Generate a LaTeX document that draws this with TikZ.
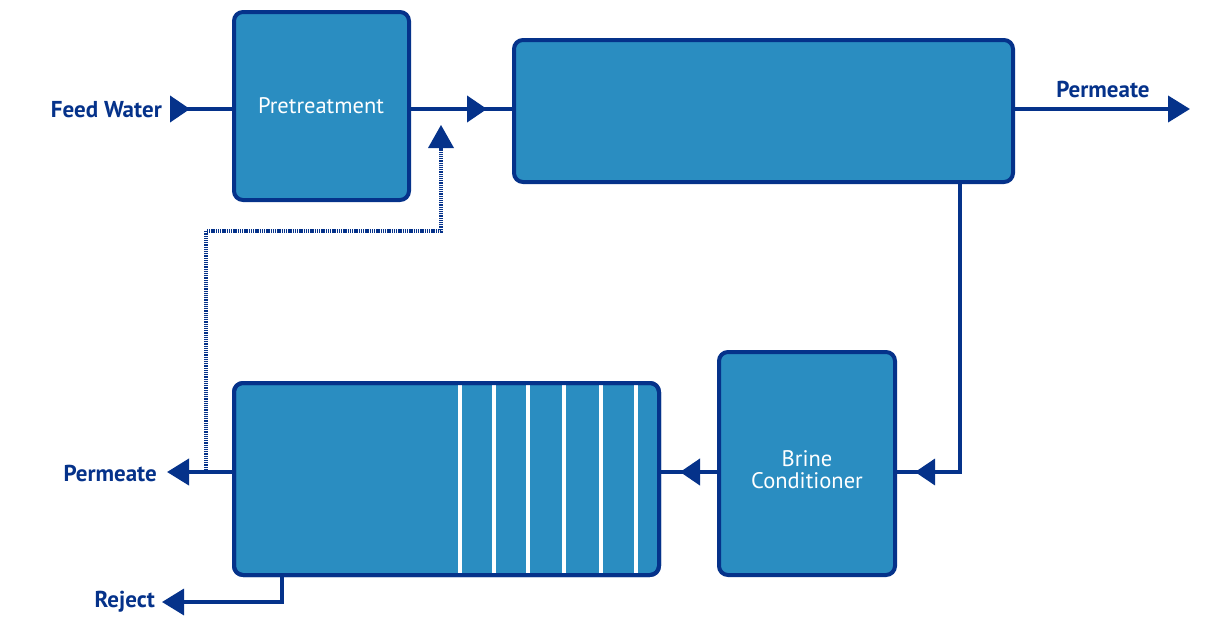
\documentclass[tikz,border=0pt]{standalone}
\usepackage{fontspec}
\setmainfont{PT Sans}
\usetikzlibrary{arrows.meta,decorations.markings,calc}
\definecolor{boxfill}{HTML}{2A8DC1}
\definecolor{navy}{HTML}{05328A}
\begin{document}
\begin{tikzpicture}[x=1pt,y=-1pt,
  box/.style={draw=navy, fill=boxfill, line width=4pt, rounded corners=9pt, inner sep=0pt},
  boxtext/.style={text=white, font=\fontsize{22.5}{22}\selectfont, align=center, inner sep=0pt},
  lbl/.style={text=navy, font=\bfseries\fontsize{23}{26}\selectfont, inner sep=0pt},
  conn/.style={draw=navy, line width=4pt},
  thin conn/.style={draw=navy, line width=3.5pt},
  endtip/.style={-{Triangle[length=22pt,width=26pt]}},
  midtip/.style={postaction={decorate, decoration={markings,
      mark=at position #1 with {\arrow{Triangle[length=20pt,width=26pt,navy]}}}}},
  dotted conn/.style={draw=navy, line width=3.5pt, dash pattern=on 1.3pt off 0.9pt}
]
\useasboundingbox (0,0) rectangle (1210,616);

% boxes
\node[box, minimum width=175pt, minimum height=188pt] (pre) at (321.5,106) {};
\node[boxtext] (pret) at (321,106) {Pretreatment};
\node[box, minimum width=499pt, minimum height=142pt] (ro) at (763.5,111) {};
\node[box, minimum width=176pt, minimum height=223pt] (bc) at (807,463.5) {};
\node[boxtext] (bct) at (807,470) {Brine\\Conditioner};
\node[box, minimum width=425pt, minimum height=192pt] (ev) at (446.5,479) {};

% stripes in evaporator box
\foreach \sx in {460,494,528,564,601,636}
  \draw[white, line width=3.5pt] (\sx,381) -- (\sx,577);
\draw[navy, line width=4pt, rounded corners=9pt]
  ($(ev.south west)+(2,-2)$) rectangle ($(ev.north east)+(-2,2)$);

% coordinates
\coordinate (fw) at (170,109);
\coordinate (pout) at (1190,109);
\coordinate (pl) at (167,472);
\coordinate (rj1) at (282,602);
\coordinate (rj2) at (162,602);
\coordinate (lp1) at (960,472);
\coordinate (dt0) at (206,470);
\coordinate (dt1) at (206,231);
\coordinate (dt2) at (441,231);
\coordinate (dt3) at (441,125);

% labels
\node[lbl, anchor=east] (fwl) at (162,110) {Feed Water};
\node[lbl] (ptl) at (1103,89) {Permeate};
\node[lbl, anchor=east] (pll) at (157,473) {Permeate};
\node[lbl, anchor=east] (rjl) at (155,602) {Reject};

% connectors
\draw[conn, midtip=20pt] (fw) -- (pre.west |- fw);
\draw[conn, midtip=76pt] (pre.east |- fw) -- (ro.west |- fw);
\draw[conn, endtip] (ro.east |- pout) -- (pout);
\draw[thin conn, midtip=333pt] (ro.south -| lp1) -- (lp1) -- (bc.east |- lp1);
\draw[conn, midtip=37pt] (bc.west |- lp1) -- (ev.east |- lp1);
\draw[conn, endtip] (ev.west |- pl) -- (pl);
\draw[thin conn, endtip] (ev.south -| rj1) -- (rj1) -- (rj2);
\draw[dotted conn] (dt0) -- (dt1) -- (dt2) -- (441,148);
\fill[navy] (dt3) -- (428,148) -- (454,148) -- cycle;
\end{tikzpicture}
\end{document}
